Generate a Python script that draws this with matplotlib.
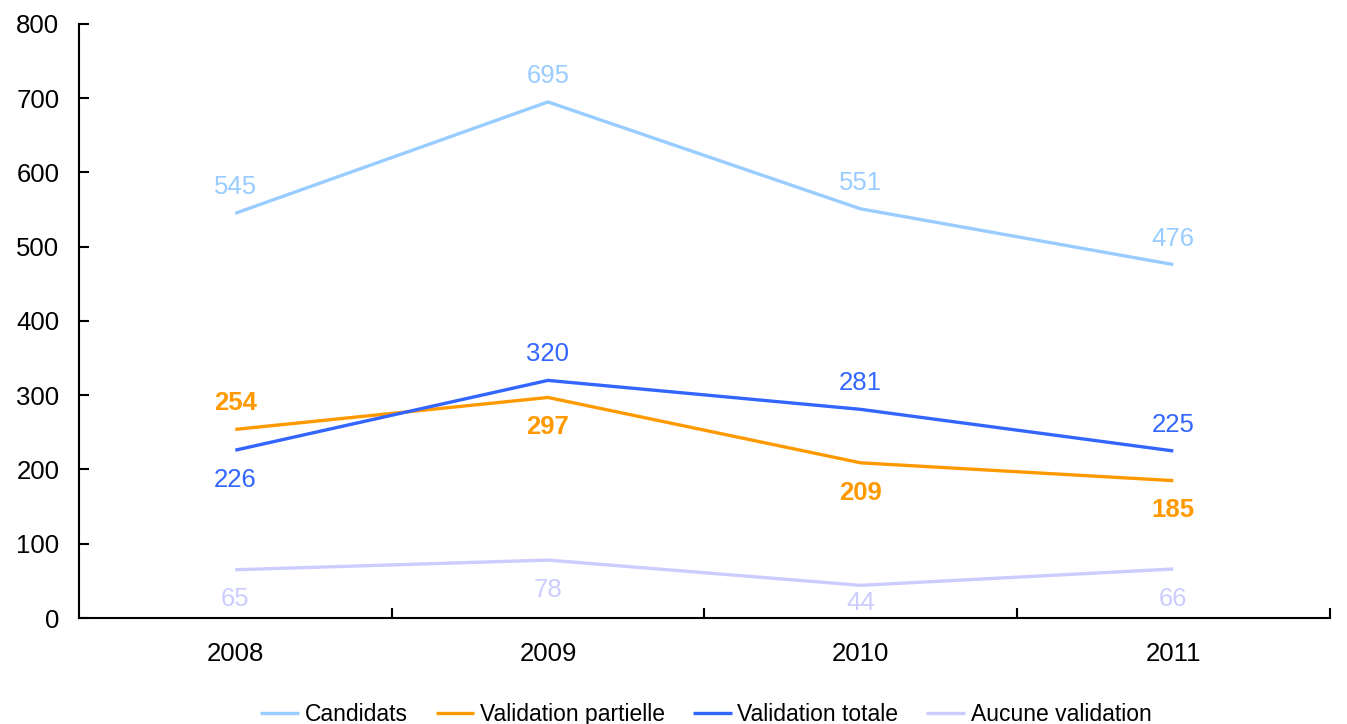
import matplotlib
matplotlib.use("Agg")
from matplotlib import pyplot as plt
import numpy as np

years = ["2008", "2009", "2010", "2011"]
candidats = [545, 695, 551, 476]
partielle = [254, 297, 209, 185]
totale = [226, 320, 281, 225]
aucune = [65, 78, 44, 66]

plt.rcParams["font.family"] = ["Liberation Sans", "DejaVu Sans"]

fig = plt.figure(figsize=(13.47, 7.24), dpi=100)
ax = fig.add_axes([0.0586, 0.1464, 0.9285, 0.8205])

x = np.arange(len(years))
series = [
    ("Candidats", candidats, "#99ccff", [1, 1, 1, 1], "normal"),
    ("Validation partielle", partielle, "#ff9900", [1, -1, -1, -1], "bold"),
    ("Validation totale", totale, "#3366ff", [-1, 1, 1, 1], "normal"),
    ("Aucune validation", aucune, "#ccccff", [-1, -1, -1, -1], "normal"),
]
for name, vals, col, sides, weight in series:
    ax.plot(x, vals, color=col, lw=2.4, label=name, solid_capstyle="butt")
    for xi, v, s in zip(x, vals, sides):
        # labels above/below the point, kept clear of the x axis
        ty = v + 35 if s > 0 else max(v - 40, 20)
        ax.text(xi, ty, str(v), ha="center", va="center", color=col,
                fontsize=18.5, fontweight=weight)

ax.set_xlim(-0.5, 3.5)
ax.set_ylim(0, 800)
ax.set_yticks(range(0, 801, 100))
ax.set_xticks(x)
ax.set_xticklabels(years)
ax.set_xticks([0.5, 1.5, 2.5, 3.5], minor=True)
ax.tick_params(axis="x", which="major", length=0, labelsize=18.5, pad=17)
ax.tick_params(axis="x", which="minor", direction="in", length=7, width=1.5)
ax.tick_params(axis="y", direction="in", length=7, width=1.5, labelsize=18.5, pad=14)
for s in ["top", "right"]:
    ax.spines[s].set_visible(False)
for s in ["left", "bottom"]:
    ax.spines[s].set_linewidth(1.5)

fig.legend(loc="center", bbox_to_anchor=(0.524, 0.013), ncol=4, frameon=False,
           fontsize=16.5, handlelength=1.7, handletextpad=0.25, columnspacing=1.2)

fig.savefig("out.png", dpi=100)
